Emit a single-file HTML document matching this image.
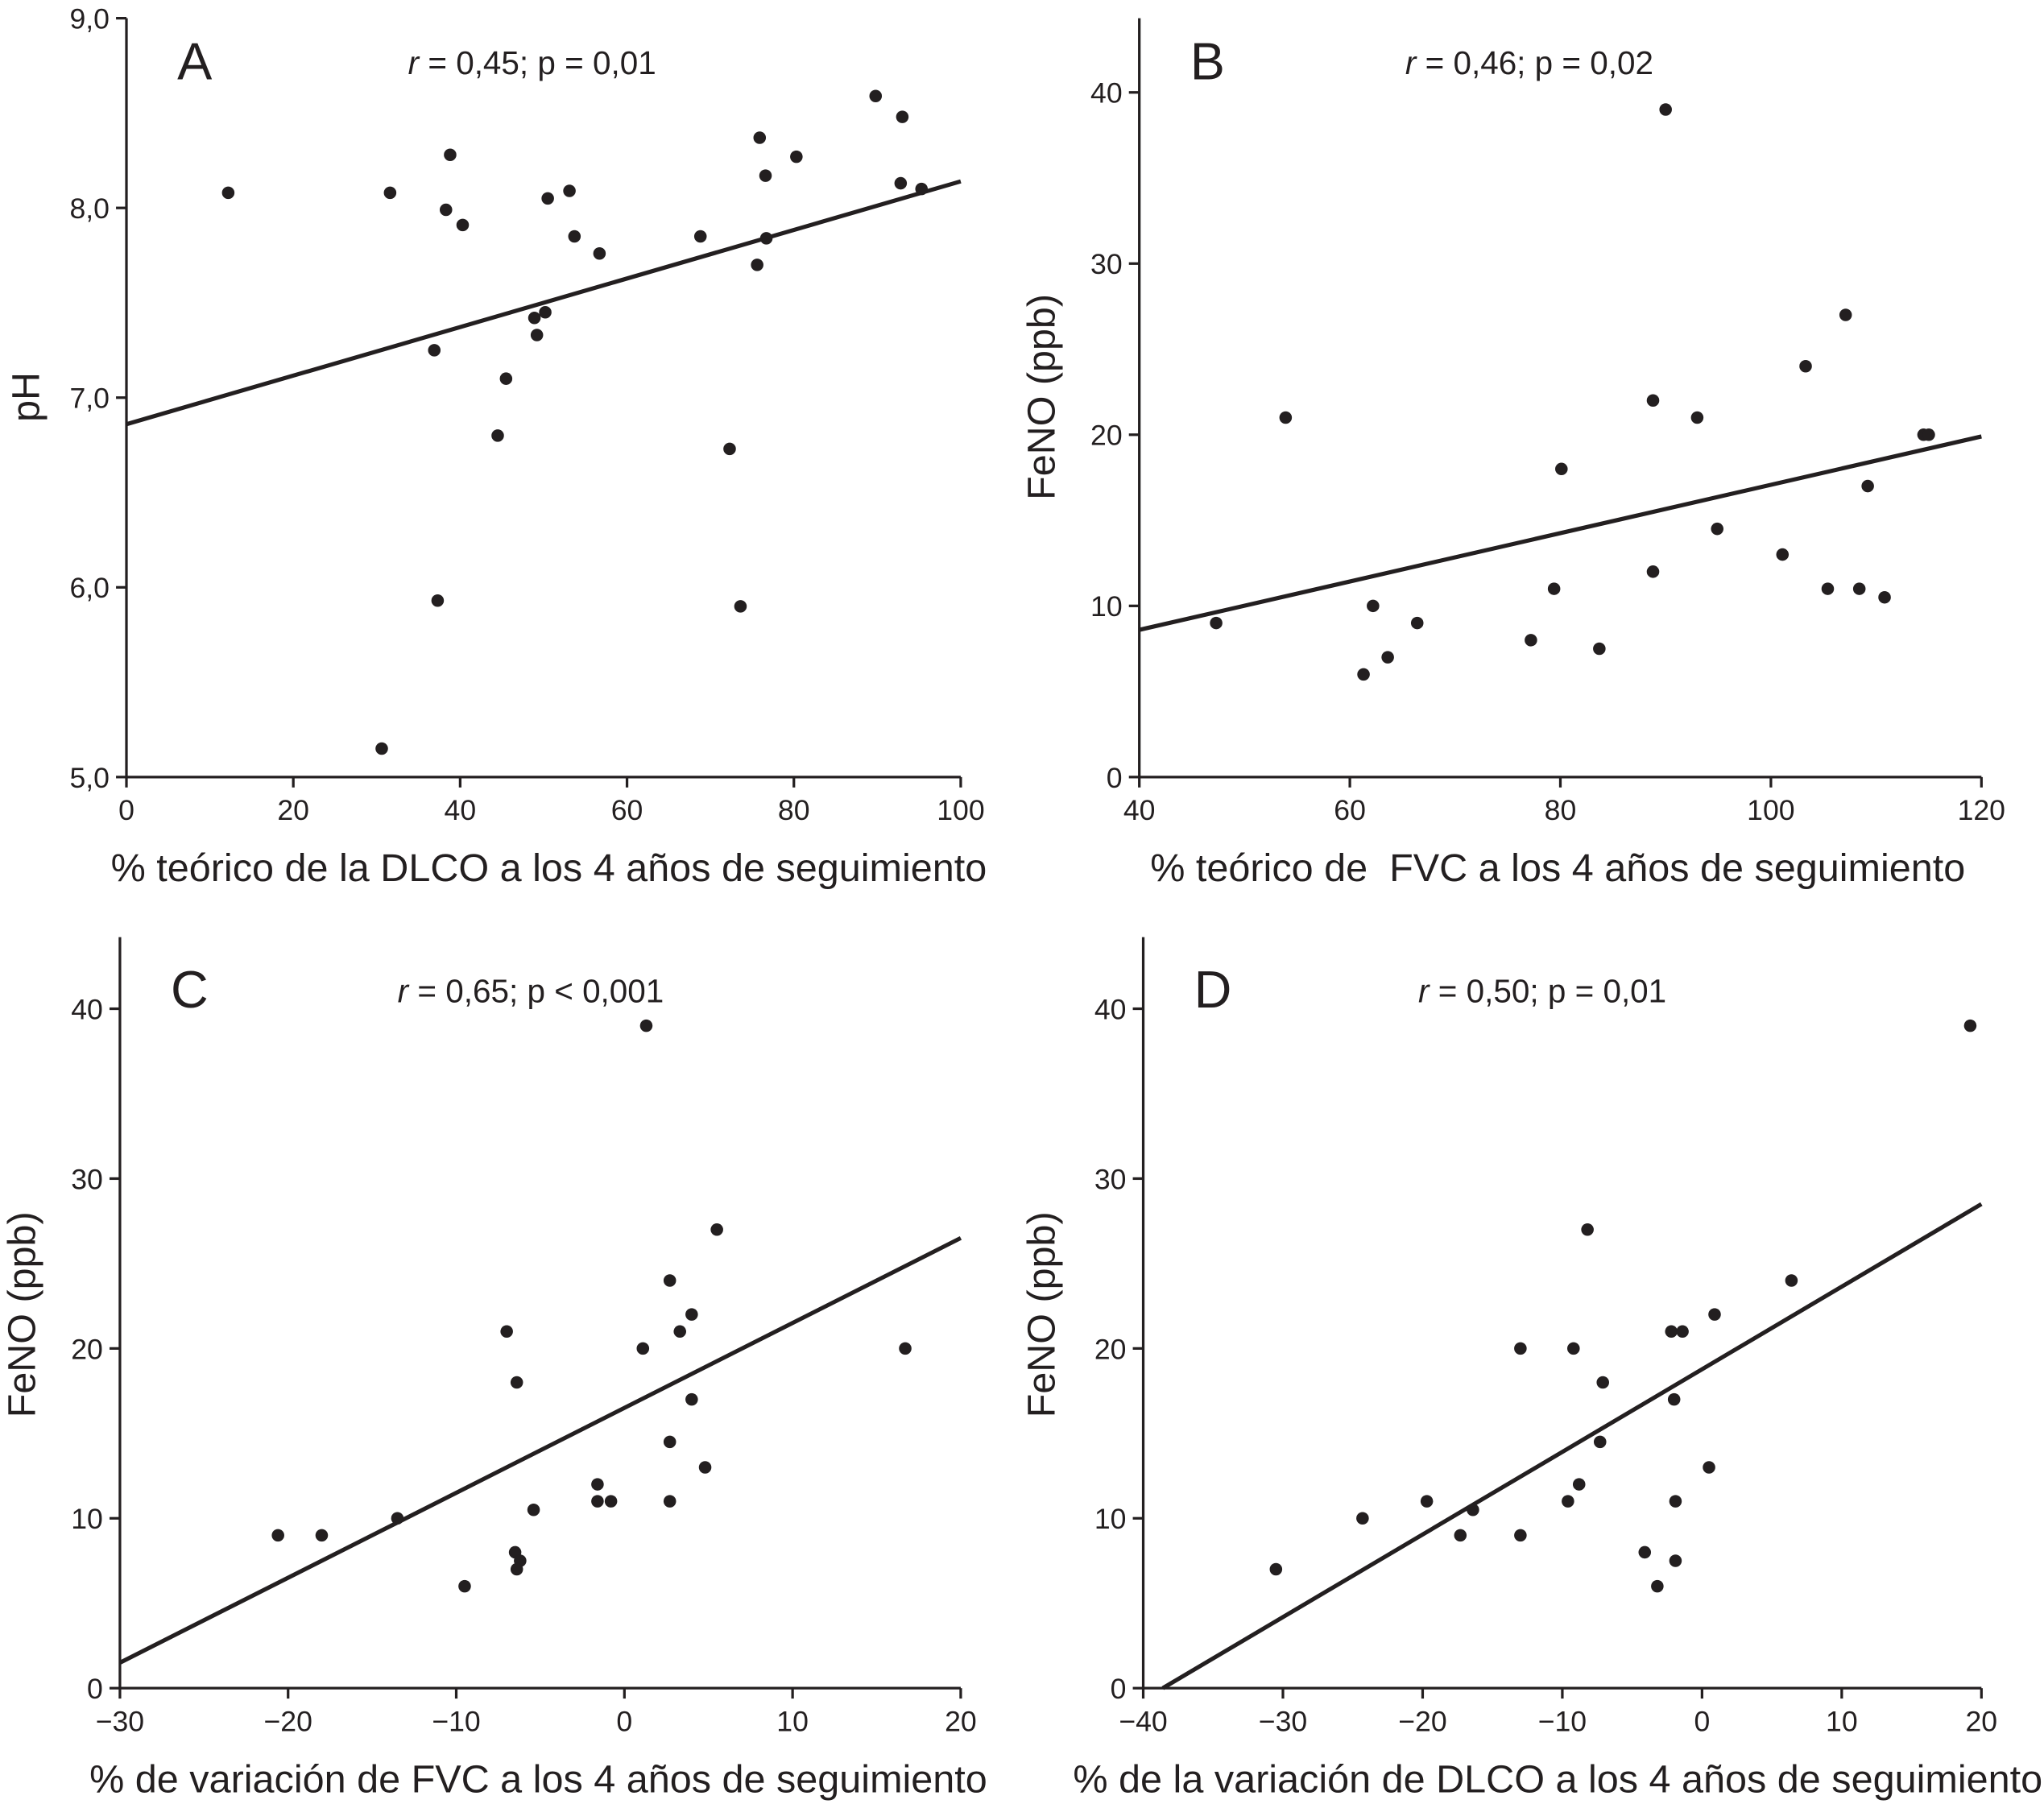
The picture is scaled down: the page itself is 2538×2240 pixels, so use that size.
<!DOCTYPE html>
<html><head><meta charset="utf-8"><style>
html,body{margin:0;padding:0;background:#fff}
svg{display:block}
text{font-family:"Liberation Sans",Arial,sans-serif;fill:#231f20}
</style></head><body>
<svg id="fig" width="2538" height="2240" viewBox="0 0 1568 1386" preserveAspectRatio="none" xmlns="http://www.w3.org/2000/svg"></svg>
<script>
// Panel A data
const aX=[12.2,31.6,38.8,38.3,40.3,36.9,45.5,44.5,37.3,30.6,50.5,53.1,53.7,56.7,48.9,50.2,49.2,68.8,75.9,76.6,76.7,75.6,80.3,72.3,73.6,89.8,93.0,92.8,95.3];
const aY=[8.08,8.08,8.28,7.99,7.91,7.25,7.10,6.80,5.93,5.15,8.05,8.09,7.85,7.76,7.42,7.45,7.33,7.85,8.37,8.17,7.84,7.70,8.27,6.73,5.90,8.59,8.48,8.13,8.10];
const aLine=[[0,6.86],[100,8.14]];
const aXTicks=[0,20,40,60,80,100];
const aYTicks=[5,6,7,8,9];
// Panel B data
const bX=[47.3,53.9,61.3,62.2,63.6,66.4,77.2,79.4,80.1,83.7,88.8,88.8,90,93,94.9,101.1,103.3,107.1,105.4,108.4,109.2,110.8,114.5,115];
const bY=[9,21,6,10,7,9,8,11,18,7.5,22,12,39,21,14.5,13,24,27,11,11,17,10.5,20,20];
const bLine=[[40,8.6],[120,19.9]];
const bXTicks=[40,60,80,100,120];
const bYTicks=[0,10,20,30,40];
// Panel C data
const cX=[-20.6,-18,-13.5,-9.5,-7,-6.4,-6.5,-6.2,-6.4,-5.4,-1.6,-1.6,-0.8,1.1,1.3,2.7,2.7,2.7,3.3,4,4,4.8,5.5,16.7];
const cY=[9,9,10,6,21,18,8,7.5,7,10.5,12,11,11,20,39,24,14.5,11,21,22,17,13,27,20];
const cLine=[[-30,1.5],[20,26.5]];
const cXTicks=[-30,-20,-10,0,10,20];
const cYTicks=[0,10,20,30,40];
// Panel D data
const dX=[-30.5,-24.3,-19.7,-17.3,-16.4,-13,-13,-9.6,-9.2,-8.8,-8.2,-7.1,-7.3,-4.1,-3.2,-2.2,-2,-1.9,-1.9,-1.4,0.5,0.9,6.4,19.2];
const dY=[7,10,11,9,10.5,20,9,11,20,12,27,18,14.5,8,6,21,17,11,7.5,21,13,22,24,39];
const dLine=[[-38.6,0],[20,28.5]];
const dXTicks=[-40,-30,-20,-10,0,10,20];
const dYTicks=[0,10,20,30,40];

const NS="http://www.w3.org/2000/svg";
const svg=document.getElementById('fig');
function mk(tag,attrs,parent){const e=document.createElementNS(NS,tag);for(const k in attrs)e.setAttribute(k,attrs[k]);(parent||svg).appendChild(e);return e;}
function fmt(v,dec){let s=dec?v.toFixed(1).replace('.',','):String(v);return s.replace('-','\u2212');}

function panel(o){
  const g=mk('g',{});
  
  
  const sx=v=>o.px0+(v-o.x0)/(o.x1-o.x0)*(o.px1-o.px0);
  const sy=v=>o.py0-(v-o.y0)/(o.y1-o.y0)*(o.py0-o.py1);
  const ax=mk('line',{x1:o.px0,y1:o.py0,x2:o.px1,y2:o.py0,stroke:'#231f20','stroke-width':2},g);
  
  const ay=mk('line',{x1:o.px0,y1:o.py0,x2:o.px0,y2:o.ytop,stroke:'#231f20','stroke-width':2},g);
  
  o.xt.forEach(v=>{const x=sx(v);
    mk('line',{x1:x,y1:o.py0,x2:x,y2:o.py0+8,stroke:'#231f20','stroke-width':2},g);
    const t=mk('text',{x:x,y:o.py0+33,'text-anchor':'middle','font-size':22},g);
    
    t.textContent=fmt(v,false);});
  o.yt.forEach(v=>{const y=sy(v);
    mk('line',{x1:o.px0-8,y1:y,x2:o.px0,y2:y,stroke:'#231f20','stroke-width':2},g);
    const t=mk('text',{x:o.px0-13,y:y+8,'text-anchor':'end','font-size':22},g);
    
    t.textContent=fmt(v,o.dec);});
  const l=mk('line',{x1:sx(o.line[0][0]),y1:sy(o.line[0][1]),x2:sx(o.line[1][0]),y2:sy(o.line[1][1]),stroke:'#231f20','stroke-width':3.2},g);
  
  o.xs.forEach((v,i)=>{const c=mk('circle',{cx:sx(v),cy:sy(o.ys[i]),r:4.8,fill:'#231f20'},g);
    });
  const xt=mk('text',{x:o.xtx,y:o.py0+80,'text-anchor':'middle','font-size':30},g);
  xt.textContent=o.xtitle;
  const yt=mk('text',{x:0,y:0,'text-anchor':'middle','font-size':30,transform:`translate(${o.ytx},${o.yty}) rotate(-90)`},g);
  yt.textContent=o.ytitle;
  const lt=mk('text',{x:o.px0+39,y:o.ltY,'font-size':40},g);
  lt.textContent=o.id;
  const st=mk('text',{x:o.stx,y:o.ltY-4,'font-size':25},g);
  
  st.innerHTML='<tspan font-style="italic">r</tspan> = '+o.stat;
}
panel({id:'A',xs:aX,ys:aY,line:aLine,xt:aXTicks,yt:aYTicks,dec:true,x0:0,x1:100,y0:5,y1:9,px0:97,px1:737,py0:597,py1:14,ytop:14,
  xtitle:'% teórico de la DLCO a los 4 años de seguimiento',xtx:421,ytitle:'pH',ytx:30,yty:305,ltY:61,stx:313,stat:'0,45; p = 0,01'});
panel({id:'B',xs:bX,ys:bY,line:bLine,xt:bXTicks,yt:bYTicks,dec:false,x0:40,x1:120,y0:0,y1:40,px0:874,px1:1520,py0:597,py1:71,ytop:14,
  xtitle:'% teórico de\u00a0 FVC a los 4 años de seguimiento',xtx:1195,ytitle:'FeNO (ppb)',ytx:809,yty:305,ltY:61,stx:1078,stat:'0,46; p = 0,02'});
panel({id:'C',xs:cX,ys:cY,line:cLine,xt:cXTicks,yt:cYTicks,dec:false,x0:-30,x1:20,y0:0,y1:40,px0:92,px1:737,py0:1297,py1:775,ytop:720,
  xtitle:'% de variación de FVC a los 4 años de seguimiento',xtx:413,ytitle:'FeNO (ppb)',ytx:27,yty:1010,ltY:774,stx:305,stat:'0,65; p < 0,001'});
panel({id:'D',xs:dX,ys:dY,line:dLine,xt:dXTicks,yt:dYTicks,dec:false,x0:-40,x1:20,y0:0,y1:40,px0:877,px1:1520,py0:1297,py1:775,ytop:720,
  xtitle:'% de la variación de DLCO a los 4 años de seguimiento',xtx:1195,ytitle:'FeNO (ppb)',ytx:809,yty:1010,ltY:774,stx:1088,stat:'0,50; p = 0,01'});
</script>
</body></html>
